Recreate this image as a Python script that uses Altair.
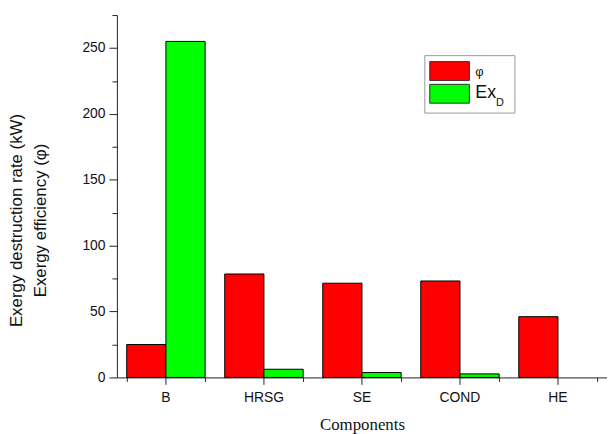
import altair as alt
import pandas as pd

components = ["B", "HRSG", "SE", "COND", "HE"]
phi_values = [25.0, 78.5, 71.5, 73.2, 46.1]
exd_values = [255.0, 6.2, 3.7, 2.7, 0.0]
series = ["φ", "ExD"]
colors = ["#FF0000", "#00FF00"]
major_y = [0, 50, 100, 150, 200, 250]
minor_y = [25, 75, 125, 175, 225, 275]

rows = []
for i, c in enumerate(components):
    rows.append({"component": c, "series": series[0], "value": phi_values[i]})
    rows.append({"component": c, "series": series[1], "value": exd_values[i]})
df = pd.DataFrame(rows)

W, H = 495, 366
SANS = "Liberation Sans"
SERIF = "Liberation Serif"
AX = "#222222"


def xs():
    return alt.Scale(type="band", domain=components, paddingInner=0.2, paddingOuter=0.1)


def ys():
    return alt.Scale(domain=[0, 275], nice=False, zero=True)


bars = alt.Chart(df).mark_bar(strokeWidth=1).encode(
    x=alt.X("component:N", scale=xs(), sort=components,
            axis=alt.Axis(orient="bottom", title="Components", labelAngle=0, tickSize=7,
                          labelPadding=6, labelFont=SANS, labelFontSize=14, labelColor="#111",
                          titleFont=SERIF, titleFontSize=17, titleFontWeight="normal",
                          titleColor="#111", titlePadding=13, domainColor=AX, tickColor=AX,
                          grid=False)),
    xOffset=alt.XOffset("series:N", sort=series,
                        scale=alt.Scale(domain=series, paddingInner=0, paddingOuter=0)),
    y=alt.Y("value:Q", scale=ys(),
            axis=alt.Axis(orient="left", values=major_y, tickSize=8, labelPadding=4,
                          labelFont=SANS, labelFontSize=14, labelColor="#111",
                          title=["Exergy destruction rate (kW)", "Exergy efficiency (φ)"],
                          titleFont=SANS, titleFontSize=17, titleFontWeight="normal",
                          titleColor="#111", titleAngle=270, titleAlign="center",
                          titleBaseline="top", titleX=-109, titleY=207, titleLineHeight=24,
                          domainColor=AX, tickColor=AX, grid=False)),
    color=alt.Color("series:N", scale=alt.Scale(domain=series, range=colors), legend=None),
    stroke=alt.condition("datum.value > 0", alt.value("black"), alt.value("transparent")),
)

minor = alt.Chart(df).mark_bar(opacity=0).encode(
    x=alt.X("component:N", scale=xs(), sort=components,
            axis=alt.Axis(orient="bottom", title=None, labels=False, domain=False,
                          tickBand="extent", tickSize=4, tickColor=AX, grid=False)),
    y=alt.Y("value:Q", scale=ys(),
            axis=alt.Axis(orient="left", values=minor_y, title=None, labels=False,
                          domain=False, tickSize=5, tickColor=AX, grid=False)),
)

one = pd.DataFrame({"k": [0]})

legend_box = alt.Chart(one).mark_rect(fill="white", stroke="#999999", strokeWidth=1).encode(
    x=alt.value(311), x2=alt.value(402), y=alt.value(41), y2=alt.value(99))
sw_red = alt.Chart(one).mark_rect(fill=colors[0], stroke="#333", strokeWidth=1).encode(
    x=alt.value(316), x2=alt.value(356), y=alt.value(47), y2=alt.value(66))
sw_green = alt.Chart(one).mark_rect(fill=colors[1], stroke="#333", strokeWidth=1).encode(
    x=alt.value(316), x2=alt.value(356), y=alt.value(70), y2=alt.value(89))
t_phi = alt.Chart(one).mark_text(font=SANS, fontSize=13, align="left", baseline="alphabetic",
                                 color="#111").encode(
    x=alt.value(362), y=alt.value(62), text=alt.value("φ"))
t_ex = alt.Chart(one).mark_text(font=SANS, fontSize=18, align="left", baseline="alphabetic",
                                color="#111").encode(
    x=alt.value(362), y=alt.value(84), text=alt.value("Ex"))
t_d = alt.Chart(one).mark_text(font=SANS, fontSize=11, align="left", baseline="alphabetic",
                               color="#111").encode(
    x=alt.value(383), y=alt.value(92), text=alt.value("D"))

chart = alt.layer(bars, minor, legend_box, sw_red, sw_green, t_phi, t_ex, t_d).resolve_scale(
    x="independent", y="independent"
).resolve_axis(
    x="independent", y="independent"
).properties(
    width=W, height=H, autosize="none",
    padding={"left": 110, "top": 5, "right": 0, "bottom": 55},
    background="white",
).configure_view(stroke=None)

chart.save("out.html", embed_options={"renderer": "svg", "actions": False})
